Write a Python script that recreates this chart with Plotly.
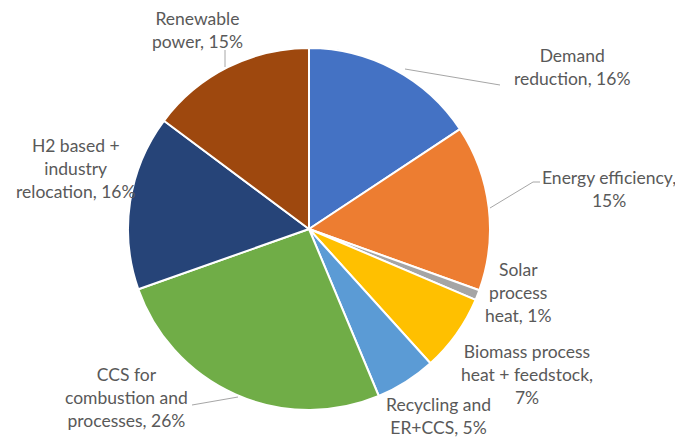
import plotly.graph_objects as go

# page body has an 8px margin; size figure so it fills the 683x439 window
OFF = 8
W, H = 683 - OFF, 439 - OFF

categories = ["Demand reduction", "Energy efficiency", "Solar process heat",
              "Biomass process heat + feedstock", "Recycling and ER+CCS",
              "CCS for combustion and processes", "H2 based + industry relocation",
              "Renewable power"]
values = [15.7, 14.8, 0.9, 6.9, 5.4, 25.9, 15.6, 14.8]
pct_labels = ["16%", "15%", "1%", "7%", "5%", "26%", "16%", "15%"]
colors = ["#4472C4", "#ED7D31", "#A5A5A5", "#FFC000", "#5B9BD5",
          "#70AD47", "#264478", "#9E480E"]

label_texts = [
    "Demand<br>reduction, " + pct_labels[0],
    "Energy efficiency,<br>" + pct_labels[1],
    "Solar<br>process<br>heat, " + pct_labels[2],
    "Biomass process<br>heat + feedstock,<br>" + pct_labels[3],
    "Recycling and<br>ER+CCS, " + pct_labels[4],
    "CCS for<br>combustion and<br>processes, " + pct_labels[5],
    "H2 based +<br>industry<br>relocation, " + pct_labels[6],
    "Renewable<br>power, " + pct_labels[7],
]
# label centers in window pixels
label_pos = [(572, 67), (609, 189), (518, 292), (527, 374), (438, 416),
             (126, 397), (76, 168), (197, 30)]

cx, cy, r = 309, 229, 181

def px(x):
    return (x - OFF) / W

def py(y):
    return 1 - (y - OFF) / H

fig = go.Figure(go.Pie(
    labels=categories,
    values=values,
    sort=False,
    direction="clockwise",
    rotation=0,
    marker=dict(colors=colors, line=dict(color="white", width=2)),
    textinfo="none",
    hoverinfo="skip",
    showlegend=False,
    domain=dict(x=[px(cx - r), px(cx + r)], y=[py(cy + r), py(cy - r)]),
))

annotations = []
for txt, (x, y) in zip(label_texts, label_pos):
    annotations.append(dict(
        text=txt, x=px(x), y=py(y), xref="paper", yref="paper",
        xanchor="center", yanchor="middle", showarrow=False, align="center",
        font=dict(family="Lato, Open Sans, sans-serif", size=17.5, color="#595959"),
    ))

leaders = [
    [(405, 69), (500, 85)],
    [(490, 208), (533, 182), (540, 182)],
    [(225, 67), (225, 50)],
    [(238, 397), (192, 405)],
]
shapes = []
for pts in leaders:
    path = "M " + " L ".join(f"{px(x)},{py(y)}" for x, y in pts)
    shapes.append(dict(type="path", path=path, xref="paper", yref="paper",
                       line=dict(color="#A6A6A6", width=1)))

fig.update_layout(
    width=W, height=H,
    margin=dict(l=0, r=0, t=0, b=0),
    paper_bgcolor="white", plot_bgcolor="white",
    annotations=annotations, shapes=shapes,
)

fig.write_html("out.html")
